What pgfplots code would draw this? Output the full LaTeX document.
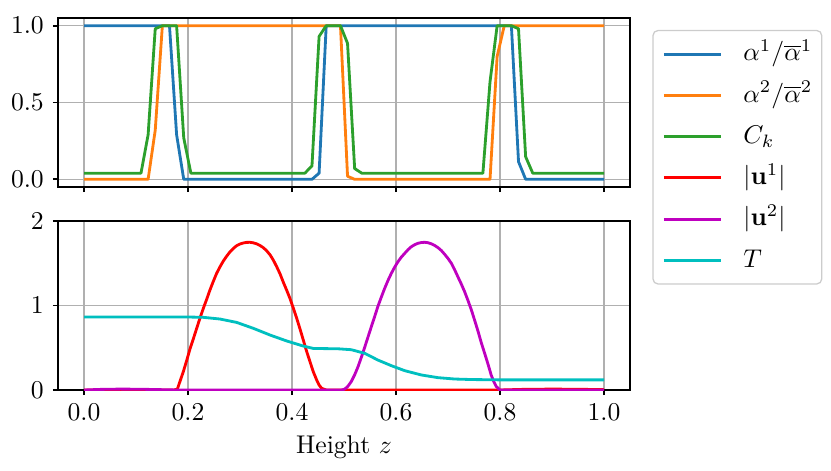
\documentclass[border=0pt]{standalone}
\usepackage{pgfplots}
\pgfplotsset{compat=1.18}
\definecolor{tabblue}{HTML}{1F77B4}
\definecolor{taborange}{HTML}{FF7F0E}
\definecolor{tabgreen}{HTML}{2CA02C}
\definecolor{mred}{HTML}{FF0000}
\definecolor{mmag}{HTML}{BF00BF}
\definecolor{mcyan}{HTML}{00BFBF}
\definecolor{gridgray}{HTML}{B0B0B0}
\pgfplotsset{
  layers/mylayers/.define layer set={axis background,axis grid,axis ticks,main,axis lines,axis tick labels,axis descriptions,axis foreground}{},
  myax/.style={
    set layers=mylayers,
    scale only axis,
    width=223.08pt,
    xmin=-0.05, xmax=1.05,
    xtick={0,0.2,0.4,0.6,0.8,1.0},
    tick pos=left,
    tick align=outside,
    major tick length=2pt,
    grid=major,
    major grid style={color=gridgray, line width=0.6pt},
    axis line style={line width=0.7pt},
    every tick/.style={black, line width=0.7pt},
    every axis plot/.append style={line width=1.1pt, no markers, line join=round},
  }
}
\begin{document}
\begin{tikzpicture}
% top panel
\begin{axis}[myax,
  at={(22.62pt,110.37pt)}, anchor=south west,
  height=65.91pt,
  ymin=-0.05, ymax=1.05,
  ytick={0,0.5,1},
  xticklabels={},
  yticklabel style={/pgf/number format/.cd, fixed, fixed zerofill, precision=1},
  legend cell align=left,
  legend style={at={(1.039,0.93)}, anchor=north west,
    draw=black!20, rounded corners=2pt, line width=0.5pt,
    inner xsep=3.7pt, inner ysep=1.2pt,
    row sep=0pt,
    nodes={inner sep=0pt, text height=10.7pt, text depth=5.38pt}},
  legend image code/.code={\draw[#1, line width=1.1pt] (0pt,0pt) -- (22.3pt,0pt); \path (30.5pt,0pt);},
]
\addplot[tabblue] coordinates {(0,1) (0.1644,1) (0.1781,0.29) (0.1918,0) (0.4384,0) (0.4521,0.04) (0.4658,1) (0.8219,1) (0.8356,0.115) (0.8493,0) (1,0)};
\addlegendentry{$\alpha^1/\overline{\alpha}^1$}
\addplot[taborange] coordinates {(0,0) (0.1233,0) (0.1370,0.32) (0.1507,1) (0.4932,1) (0.5068,0.02) (0.5205,0) (0.7808,0) (0.7945,0.80) (0.8082,1) (1,1)};
\addlegendentry{$\alpha^2/\overline{\alpha}^2$}
\addplot[tabgreen] coordinates {(0,0.04) (0.1096,0.04) (0.1233,0.29) (0.1370,0.98) (0.1507,1) (0.1781,1) (0.1918,0.27) (0.2055,0.04) (0.4247,0.04) (0.4384,0.087) (0.4521,0.93) (0.4658,1) (0.4932,1) (0.5068,0.885) (0.5205,0.07) (0.5342,0.04) (0.7671,0.04) (0.7808,0.635) (0.7945,1) (0.8219,1) (0.8356,0.98) (0.8493,0.147) (0.8630,0.04) (1,0.04)};
\addlegendentry{$C_k$}
\addlegendimage{mred, line width=1.1pt}
\addlegendentry{$|\mathbf{u}^1|$}
\addlegendimage{mmag, line width=1.1pt}
\addlegendentry{$|\mathbf{u}^2|$}
\addlegendimage{mcyan, line width=1.1pt}
\addlegendentry{$T$}
\end{axis}
% bottom panel
\begin{axis}[myax,
  at={(22.62pt,31.2pt)}, anchor=south west,
  height=65.91pt,
  ymin=0, ymax=2,
  ytick={0,1,2},
  xticklabel style={/pgf/number format/.cd, fixed, fixed zerofill, precision=1},
  xlabel={Height $z$},
  xlabel style={yshift=1pt},
]
\addplot[mred] coordinates {(0,0) (0.172,0) (0.1795,0.01) (0.185,0.11) (0.191,0.217) (0.1975,0.35) (0.204,0.49) (0.2105,0.61) (0.2167,0.73) (0.223,0.85) (0.2295,0.967) (0.236,1.075) (0.242,1.18) (0.2485,1.283) (0.255,1.38) (0.2615,1.458) (0.268,1.527) (0.2745,1.585) (0.281,1.637) (0.2873,1.676) (0.2936,1.708) (0.3,1.728) (0.3064,1.74) (0.3127,1.747) (0.319,1.748) (0.3255,1.742) (0.332,1.73) (0.3385,1.71) (0.345,1.684) (0.3515,1.646) (0.358,1.598) (0.3643,1.535) (0.3705,1.46) (0.377,1.375) (0.383,1.28) (0.3895,1.185) (0.396,1.085) (0.4025,0.97) (0.409,0.85) (0.4155,0.72) (0.4218,0.59) (0.428,0.46) (0.4346,0.335) (0.441,0.215) (0.4475,0.118) (0.452,0.06) (0.457,0.02) (0.466,0) (0.80,0) (0.84,0.007) (0.90,0.011) (0.96,0.008) (1,0.004)};
\addplot[mmag] coordinates {(0,0) (0.03,0.007) (0.07,0.011) (0.11,0.009) (0.15,0.004) (0.18,0) (0.495,0) (0.501,0.01) (0.507,0.04) (0.514,0.1) (0.5205,0.18) (0.527,0.276) (0.5335,0.39) (0.54,0.51) (0.5463,0.63) (0.5526,0.75) (0.559,0.87) (0.565,0.986) (0.5715,1.095) (0.578,1.20) (0.5845,1.295) (0.591,1.38) (0.5975,1.455) (0.604,1.52) (0.6103,1.573) (0.6167,1.617) (0.623,1.66) (0.6295,1.696) (0.636,1.72) (0.642,1.736) (0.6485,1.745) (0.655,1.748) (0.6615,1.743) (0.668,1.73) (0.6745,1.71) (0.681,1.684) (0.6873,1.65) (0.6936,1.606) (0.70,1.557) (0.7064,1.50) (0.7127,1.425) (0.719,1.34) (0.7255,1.255) (0.732,1.163) (0.7385,1.058) (0.745,0.947) (0.7515,0.82) (0.758,0.69) (0.764,0.56) (0.7705,0.434) (0.777,0.305) (0.783,0.178) (0.788,0.1) (0.793,0.04) (0.80,0) (1,0)};
\addplot[mcyan] coordinates {(0,0.864) (0.2,0.864) (0.2295,0.86) (0.2615,0.84) (0.2936,0.80) (0.3256,0.73) (0.358,0.65) (0.39,0.58) (0.4218,0.52) (0.441,0.492) (0.473,0.489) (0.488,0.488) (0.514,0.477) (0.54,0.434) (0.565,0.355) (0.591,0.288) (0.6167,0.229) (0.6487,0.178) (0.681,0.146) (0.713,0.13) (0.745,0.124) (0.80,0.12) (1,0.12)};
\end{axis}
\pgfresetboundingbox
\path[use as bounding box] (0,0) rectangle (324.09pt,183.3pt);
\end{tikzpicture}
\end{document}
